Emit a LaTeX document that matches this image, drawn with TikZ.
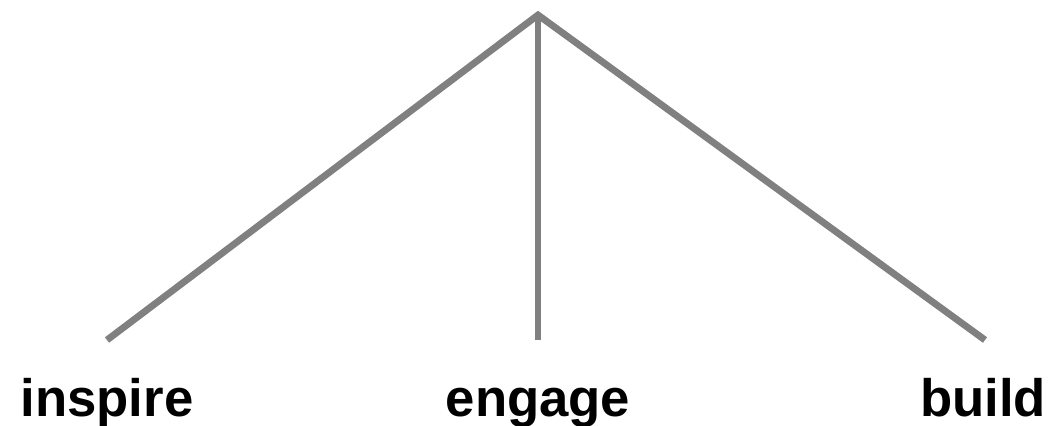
\documentclass[tikz,border=0pt]{standalone}
\usepackage{fontspec}
\setmainfont{Liberation Sans}
\usetikzlibrary{positioning}
\definecolor{branchGray}{HTML}{808080}

\begin{document}
\begin{tikzpicture}[x=0.02cm, y=-0.02cm,
    branch/.style={draw=branchGray, line width=3.9pt, line join=miter},
    leaf/.style={font=\bfseries\fontsize{30}{36}\selectfont, inner sep=0pt, anchor=base}]
    \useasboundingbox (0,0) rectangle (1055,426);
    \coordinate (root) at (538,15);
    \coordinate (inspireEnd) at (107,340);
    \coordinate (engageEnd) at (538,340);
    \coordinate (buildEnd) at (985,340);
    \node[leaf] (inspire) at (107,416) {inspire};
    \node[leaf] (engage) at (538,416) {engage};
    \node[leaf] (build) at (983,416) {build};
    \draw[branch] (inspireEnd) -- (root) -- (buildEnd);
    \draw[branch] (root) -- (engageEnd);
  \end{tikzpicture}
\end{document}
